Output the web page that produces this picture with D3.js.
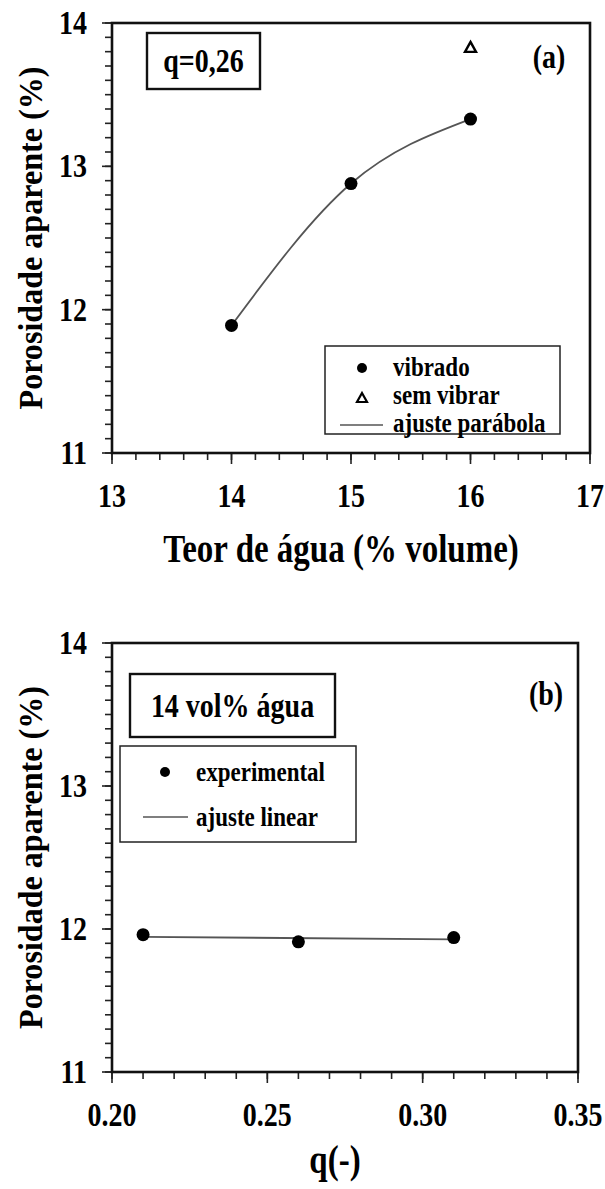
<!DOCTYPE html>
<html>
<head>
<meta charset="utf-8">
<script src="https://cdn.jsdelivr.net/npm/d3@7"></script>
<style>
	body { margin: 0; background: #fff; }
	svg { display: block; }
	text { font-family: "Liberation Serif", "Times New Roman", serif; font-weight: bold; fill: #000; }
</style>
</head>
<body>
<svg id="chart" width="605" height="1189"></svg>
<script>

// panel (a) : porosity vs water content, q = 0,26
const A_X_TICKS = [13, 14, 15, 16, 17];
const A_Y_TICKS = [11, 12, 13, 14];
const A_VIBRADO = [[14, 11.89], [15, 12.88], [16, 13.33]];
const A_SEM_VIBRAR = [[16, 13.83]];

// panel (b) : porosity vs q, 14 vol% water
const B_X_TICKS = [0.20, 0.25, 0.30, 0.35];
const B_Y_TICKS = [11, 12, 13, 14];
const B_EXPERIMENTAL = [[0.21, 11.96], [0.26, 11.91], [0.31, 11.94]];
const B_AJUSTE = [[0.21, 11.945], [0.31, 11.928]];

const Y_TITLE = "Porosidade aparente (%)";

// the scanned figure is a bit taller than wide, stretch text vertically
const STRETCH = 1.2;

const svg = d3.select("#chart");

function addText(g, x, y, str, size, anchor){
	return g.append("text")
		.attr("transform", "translate(" + x + "," + y + ") scale(1," + STRETCH + ")")
		.attr("text-anchor", anchor || "start")
		.attr("font-size", size)
		.text(str);
}

function makePanel(args){
	let x = d3.scaleLinear().domain(args.xDomain).range([args.left, args.right]);
	let y = d3.scaleLinear().domain(args.yDomain).range([args.bottom, args.top]);
	let g = svg.append("g");

	// minor ticks
	let xMinor = d3.range(args.xDomain[0], args.xDomain[1] + args.xStep / 2, args.xStep);
	let yMinor = d3.range(args.yDomain[0], args.yDomain[1] + 0.05, 0.1);

	g.selectAll(".xminor").data(xMinor).enter().append("line")
		.attr("x1", d => x(d)).attr("x2", d => x(d))
		.attr("y1", args.bottom).attr("y2", args.bottom + 7)
		.attr("stroke", "#222").attr("stroke-width", 1.6);
	g.selectAll(".xmajor").data(args.xTicks).enter().append("line")
		.attr("x1", d => x(d)).attr("x2", d => x(d))
		.attr("y1", args.bottom).attr("y2", args.bottom + 11)
		.attr("stroke", "#222").attr("stroke-width", 1.6);
	g.selectAll(".yminor").data(yMinor).enter().append("line")
		.attr("x1", args.left - 7).attr("x2", args.left)
		.attr("y1", d => y(d)).attr("y2", d => y(d))
		.attr("stroke", "#222").attr("stroke-width", 1.6);
	g.selectAll(".ymajor").data(args.yTicks).enter().append("line")
		.attr("x1", args.left - 10).attr("x2", args.left)
		.attr("y1", d => y(d)).attr("y2", d => y(d))
		.attr("stroke", "#222").attr("stroke-width", 1.6);

	// frame
	g.append("rect")
		.attr("x", args.left).attr("y", args.top)
		.attr("width", args.right - args.left).attr("height", args.bottom - args.top)
		.attr("fill", "none").attr("stroke", "#111").attr("stroke-width", 2.6);

	// tick labels
	args.xTicks.forEach(d => addText(g, x(d), args.bottom + 54, args.xFormat(d), 28, "middle"));
	args.yTicks.forEach(d => addText(g, args.left - 25, y(d) + 11, d, 28, "end"));

	// axis titles
	addText(g, (args.left + args.right) / 2 - 10, args.bottom + args.titleOffset, args.xTitle, 33, "middle");
	g.append("text")
		.attr("transform", "translate(42," + ((args.top + args.bottom) / 2) + ") rotate(-90) scale(1.07,1.1)")
		.attr("text-anchor", "middle").attr("font-size", 30)
		.text(Y_TITLE);

	return {g: g, x: x, y: y};
}

function boxLabel(g, x0, y0, w, h, label){
	g.append("rect").attr("x", x0).attr("y", y0).attr("width", w).attr("height", h)
		.attr("fill", "#fff").attr("stroke", "#111").attr("stroke-width", 2.4);
	addText(g, x0 + w / 2, y0 + h / 2 + 11, label, 28, "middle");
}

let lineGen = (p) => d3.line().x(d => p.x(d[0])).y(d => p.y(d[1]));

// ----- panel (a)
let pa = makePanel({
	left: 112, right: 590, top: 23, bottom: 453,
	xDomain: [13, 17], yDomain: [11, 14], xStep: 0.2,
	xTicks: A_X_TICKS, yTicks: A_Y_TICKS,
	xFormat: d => d,
	xTitle: "Teor de água (% volume)",
	titleOffset: 109
});

pa.g.append("path")
	.datum(A_VIBRADO)
	.attr("d", lineGen(pa).curve(d3.curveMonotoneX))
	.attr("fill", "none").attr("stroke", "#555").attr("stroke-width", 1.8);
pa.g.selectAll(".vib").data(A_VIBRADO).enter().append("circle")
	.attr("cx", d => pa.x(d[0])).attr("cy", d => pa.y(d[1])).attr("r", 6.5)
	.attr("fill", "#000");
pa.g.selectAll(".sem").data(A_SEM_VIBRAR).enter().append("path")
	.attr("transform", d => "translate(" + pa.x(d[0]) + "," + pa.y(d[1]) + ")")
	.attr("d", "M0,-5.5 L5.5,4.5 L-5.5,4.5 Z")
	.attr("fill", "#fff").attr("stroke", "#000").attr("stroke-width", 2.4);

boxLabel(pa.g, 147, 33, 113, 56, "q=0,26");
addText(pa.g, 549, 68, "(a)", 28, "middle");

// legend (a)
let la = pa.g.append("g").attr("transform", "translate(325,346)");
la.append("rect").attr("width", 235).attr("height", 88)
	.attr("fill", "#fff").attr("stroke", "#222").attr("stroke-width", 1.5);
la.append("circle").attr("cx", 37).attr("cy", 22).attr("r", 5).attr("fill", "#000");
la.append("path").attr("transform", "translate(37,52)").attr("d", "M0,-5 L5,4 L-5,4 Z")
	.attr("fill", "#fff").attr("stroke", "#000").attr("stroke-width", 2.2);
la.append("line").attr("x1", 15).attr("x2", 58).attr("y1", 79).attr("y2", 79)
	.attr("stroke", "#555").attr("stroke-width", 1.6);
["vibrado", "sem vibrar", "ajuste parábola"].forEach((t, i) => {
	addText(la, 68, 30 + i * 28, t, 23);
});

// ----- panel (b)
let pb = makePanel({
	left: 112, right: 578, top: 643, bottom: 1072,
	xDomain: [0.20, 0.35], yDomain: [11, 14], xStep: 0.01,
	xTicks: B_X_TICKS, yTicks: B_Y_TICKS,
	xFormat: d => d3.format(".2f")(d),
	xTitle: "q(-)",
	titleOffset: 101
});

pb.g.append("path")
	.datum(B_AJUSTE)
	.attr("d", lineGen(pb))
	.attr("fill", "none").attr("stroke", "#555").attr("stroke-width", 1.8);
pb.g.selectAll(".exp").data(B_EXPERIMENTAL).enter().append("circle")
	.attr("cx", d => pb.x(d[0])).attr("cy", d => pb.y(d[1])).attr("r", 6.5)
	.attr("fill", "#000");

boxLabel(pb.g, 130, 674, 205, 63, "14 vol% água");
addText(pb.g, 546, 705, "(b)", 28, "middle");

// legend (b)
let lb = pb.g.append("g").attr("transform", "translate(120,746)");
lb.append("rect").attr("width", 236).attr("height", 96)
	.attr("fill", "#fff").attr("stroke", "#222").attr("stroke-width", 1.5);
lb.append("circle").attr("cx", 45).attr("cy", 26).attr("r", 5).attr("fill", "#000");
lb.append("line").attr("x1", 23).attr("x2", 68).attr("y1", 71).attr("y2", 71)
	.attr("stroke", "#555").attr("stroke-width", 1.6);
["experimental", "ajuste linear"].forEach((t, i) => {
	addText(lb, 76, 35 + i * 45, t, 23);
});

</script>
</body>
</html>
